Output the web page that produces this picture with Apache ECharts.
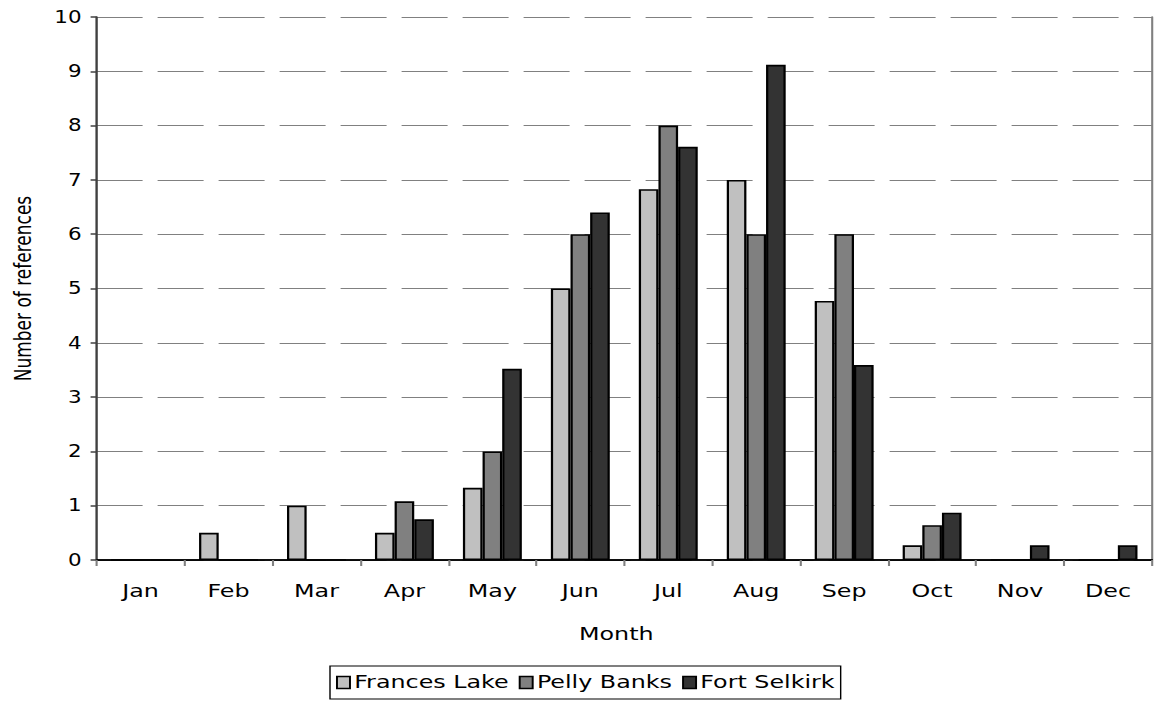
<!DOCTYPE html>
<html>
<head>
<meta charset="utf-8">
<title>Number of references by month</title>
<script src="https://cdn.jsdelivr.net/npm/echarts@6/dist/echarts.min.js"></script>
<style>
  html, body { margin: 0; padding: 0; background: #ffffff; overflow: hidden; }
  #stage { width: 1155px; height: 702px; overflow: hidden; }
  #chart { height: 702px; transform-origin: 0 0; }
</style>
</head>
<body>
<div id="stage"><div id="chart"></div></div>
<script>
// Monthly counts of references for three trading posts
const months = ['Jan', 'Feb', 'Mar', 'Apr', 'May', 'Jun', 'Jul', 'Aug', 'Sep', 'Oct', 'Nov', 'Dec'];
const francesLake = [0, 0.5, 1, 0.5, 1.33, 5, 6.83, 7, 4.77, 0.27, 0, 0];
const pellyBanks  = [0, 0, 0, 1.08, 2, 6, 8, 6, 6, 0.64, 0, 0];
const fortSelkirk = [0, 0, 0, 0.75, 3.52, 6.4, 7.61, 9.12, 3.59, 0.87, 0.27, 0.27];
const seriesNames = ['Frances Lake', 'Pelly Banks', 'Fort Selkirk'];
const seriesColors = ['#c0c0c0', '#808080', '#333333'];
const yTicks = [0, 1, 2, 3, 4, 5, 6, 7, 8, 9, 10];

// The chart is laid out on a narrower canvas and widened horizontally,
// giving the broad lettering and heavier vertical strokes of the figure.
const SX = 1.4;
const PAGE_W = 1155;
const innerW = PAGE_W / SX;
const px = v => v / SX;   // horizontal page pixels -> layout pixels

const el = document.getElementById('chart');
el.style.width = innerW + 'px';
el.style.transform = 'scaleX(' + SX + ')';

const FONT = 'DejaVu Sans';
const DIGIT_FONT = '"DejaVu Sans Condensed", "DejaVu Sans"';
const chart = echarts.init(el, null, { renderer: 'svg', width: innerW, height: 702 });

const makeBar = (name, data, color) => ({
  name: name,
  type: 'bar',
  data: data,
  barGap: '0%',
  barCategoryGap: '33%',
  itemStyle: { color: color, borderColor: '#000000', borderWidth: 1.6 }
});

chart.setOption({
  animation: false,
  backgroundColor: '#ffffff',
  textStyle: { fontFamily: FONT, color: '#000000' },
  grid: { left: px(96), right: px(3), top: 17, bottom: 142, containLabel: false },
  legend: {
    data: seriesNames,
    top: 666,
    left: px(330),
    orient: 'horizontal',
    icon: 'rect',
    itemWidth: px(13),
    itemHeight: 12,
    itemGap: px(10),
    padding: [8, px(6), 8, px(6)],
    borderColor: '#000000',
    borderWidth: 1,
    textStyle: { fontFamily: FONT, fontSize: 17, color: '#000000', padding: [0, 0, 0, -2] },
    itemStyle: { borderColor: '#000000', borderWidth: 1.4 }
  },
  xAxis: [
    {
      type: 'category',
      data: months,
      position: 'bottom',
      name: 'Month',
      nameLocation: 'middle',
      nameGap: 66,
      nameTextStyle: { fontFamily: FONT, fontSize: 17, color: '#000000', padding: [0, px(16), 0, 0] },
      axisLine: { show: true, lineStyle: { color: '#000000', width: 1.5 } },
      axisTick: { show: true, length: 6, lineStyle: { color: '#808080', width: 1.5 } },
      axisLabel: { fontFamily: FONT, fontSize: 17, color: '#000000', margin: 23 },
      splitLine: { show: false }
    },
    {
      // top edge of the plot frame
      type: 'category',
      data: months,
      position: 'top',
      axisLine: { show: true, lineStyle: { color: '#000000', width: 1.5 } },
      axisTick: { show: false },
      axisLabel: { show: false },
      splitLine: { show: false }
    }
  ],
  yAxis: [
    {
      type: 'value',
      min: yTicks[0],
      max: yTicks[yTicks.length - 1],
      interval: 1,
      position: 'left',
      name: 'Number of references',
      nameLocation: 'middle',
      nameGap: 44,
      nameRotate: 90,
      nameTextStyle: { fontFamily: FONT, fontSize: 17, color: '#000000' },
      axisLine: { show: true, lineStyle: { color: '#404040', width: 1.7 } },
      axisTick: { show: true, length: px(6), lineStyle: { color: '#404040', width: 1.5 } },
      axisLabel: { fontFamily: DIGIT_FONT, fontSize: 17, color: '#000000', margin: px(15) },
      splitLine: {
        show: true,
        lineStyle: { color: '#808080', width: 1.2, type: [px(46), px(15)], dashOffset: 0 }
      }
    },
    {
      // right edge of the plot frame
      type: 'value',
      min: yTicks[0],
      max: yTicks[yTicks.length - 1],
      interval: 1,
      position: 'right',
      axisLine: { show: true, lineStyle: { color: '#808080', width: 1.5 } },
      axisTick: { show: false },
      axisLabel: { show: false },
      splitLine: { show: false }
    }
  ],
  series: [
    makeBar(seriesNames[0], francesLake, seriesColors[0]),
    makeBar(seriesNames[1], pellyBanks, seriesColors[1]),
    makeBar(seriesNames[2], fortSelkirk, seriesColors[2])
  ]
});
</script>
</body>
</html>
